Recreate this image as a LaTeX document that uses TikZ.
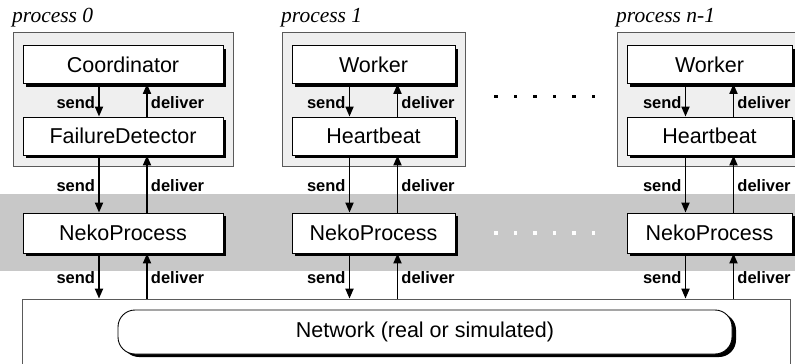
\documentclass[tikz,border=0pt]{standalone}
\usepackage{fontspec}
\setmainfont{Liberation Serif}
\setsansfont{Liberation Sans}
\usetikzlibrary{arrows.meta,shadows}

\definecolor{procfill}{HTML}{EFEFEF}
\definecolor{bandfill}{HTML}{C8C8C8}
\definecolor{procedge}{HTML}{5A5A5A}

\tikzset{
  layer/.style={draw=black, line width=0.9pt, fill=white, inner sep=0pt,
    minimum height=38pt, font=\sffamily\fontsize{21.5}{24}\selectfont,
    general shadow={fill=black, shadow xshift=3pt, shadow yshift=-3pt}},
  procbox/.style={draw=procedge, line width=0.8pt, fill=procfill, inner sep=0pt},
  proclabel/.style={anchor=base west, inner sep=0pt,
    font=\itshape\fontsize{21.5}{24}\selectfont},
  arr/.style={line width=1.9pt, -{Triangle[length=10pt,width=8pt]}},
  lbl/.style={font=\sffamily\bfseries\fontsize{16.5}{18}\selectfont, inner sep=3pt},
  netbox/.style={draw=procedge, line width=0.8pt, fill=white, inner sep=0pt},
  netlink/.style={draw=black, line width=0.9pt, fill=white, rounded corners=17pt,
    inner sep=0pt, font=\sffamily\fontsize{21.5}{24}\selectfont,
    general shadow={fill=black, shadow xshift=4pt, shadow yshift=-3pt}},
}

\begin{document}
\begin{tikzpicture}[x=1pt,y=-1pt]
\useasboundingbox (0,0) rectangle (795,364);
\clip (0,0) rectangle (795,364);

% the grey band of the Neko layer
\fill[bandfill] (0,194) rectangle (795,271);

% process containers and their names
\node[procbox, minimum width=220pt, minimum height=134pt] (p0) at (123,99) {};
\node[procbox, minimum width=183pt, minimum height=134pt] (p1) at (373.5,99) {};
\node[procbox, minimum width=190pt, minimum height=134pt] (pn) at (712,99) {};
\node[proclabel] (p0name) at (12,22) {process 0};
\node[proclabel] (p1name) at (281,22) {process 1};
\node[proclabel] (pnname) at (616,22) {process n-1};

% the network
\node[netbox, minimum width=768pt, minimum height=80pt] (net) at (406,339) {};
\node[netlink, minimum width=614pt, minimum height=44pt] (link) at (425,332) {Network (real or simulated)};

% protocol layers
\node[layer, minimum width=200pt] (coord) at (123,64.5) {Coordinator};
\node[layer, minimum width=200pt] (fd)    at (123,136)  {FailureDetector};
\node[layer, minimum width=200pt, minimum height=40pt] (neko0) at (123,233) {NekoProcess};

\node[layer, minimum width=163pt] (w1)  at (373.5,64.5) {Worker};
\node[layer, minimum width=163pt] (hb1) at (373.5,136)  {Heartbeat};
\node[layer, minimum width=163pt, minimum height=40pt] (neko1) at (373.5,233) {NekoProcess};

\node[layer, minimum width=165pt] (wn)  at (709.5,64.5) {Worker};
\node[layer, minimum width=165pt] (hbn) at (709.5,136)  {Heartbeat};
\node[layer, minimum width=165pt, minimum height=40pt] (nekon) at (709.5,233) {NekoProcess};

% send / deliver pairs between the layers
\foreach \up/\down in {coord/fd, fd/neko0, w1/hb1, hb1/neko1, wn/hbn, hbn/nekon} {
  \draw[arr] ([xshift=-24pt]\up.south) -- ([xshift=-24pt]\down.north)
    node[midway, left, lbl, yshift=-2pt] {send};
  \draw[arr] ([xshift=24pt]\down.north) -- ([xshift=24pt]\up.south)
    node[midway, right, lbl, yshift=-2pt] {deliver};
}

% Neko layer to network
\foreach \np in {neko0, neko1, nekon} {
  \draw[arr] ([xshift=-24pt]\np.south) -- ([xshift=-24pt]\np.south |- net.north)
    node[midway, left, lbl, yshift=-2pt] {send};
  \draw[arr] ([xshift=24pt]\np.south |- net.north) -- ([xshift=24pt]\np.south)
    node[midway, right, lbl, yshift=-2pt] {deliver};
}

% ellipses between process 1 and process n-1
\foreach \x in {496,515.5,535,554.5,574,593.5} {
  \fill[black] (\x-1.7,96.5-1.7) rectangle (\x+1.7,96.5+1.7);
  \fill[white] (\x-1.7,233-1.7) rectangle (\x+1.7,233+1.7);
}
\end{tikzpicture}
\end{document}
